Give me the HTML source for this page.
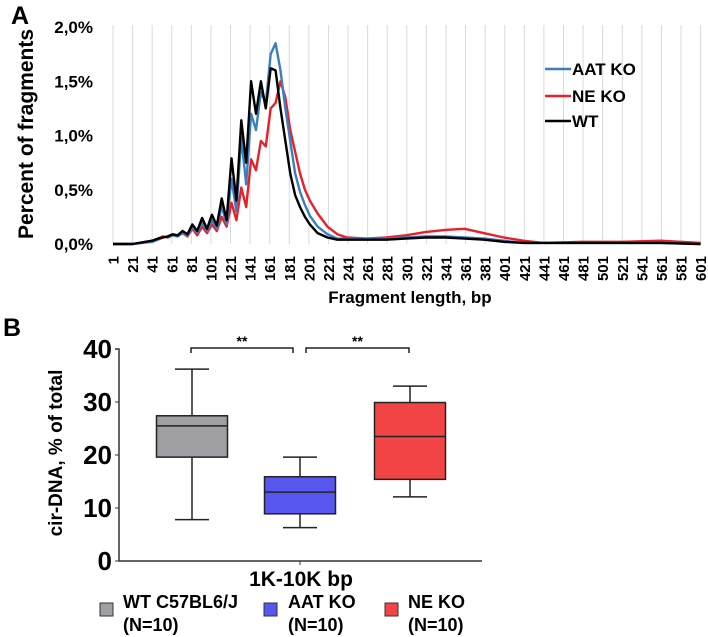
<!DOCTYPE html>
<html><head><meta charset="utf-8"><style>
body{margin:0;background:#fff}
svg{display:block;font-family:"Liberation Sans",Arial,sans-serif;font-weight:bold}
</style></head><body>
<svg id="s" width="708" height="637" viewBox="0 0 708 637">
<text x="11" y="24" font-size="25">A</text>
<text x="3" y="336" font-size="25">B</text>
<g id="topchart"></g>
<g id="botchart"></g>
</svg>
<script>
const lengths=[1,21,41,47,52,57,62,67,72,77,82,87,92,97,102,107,112,117,122,127,132,137,142,147,152,157,162,167,172,177,182,187,192,197,202,210,220,230,240,260,280,300,320,340,360,380,400,420,440,480,520,560,601];
const wtVals=[0,0,0.03,0.05,0.06,0.07,0.09,0.08,0.12,0.09,0.18,0.12,0.24,0.14,0.27,0.17,0.42,0.22,0.79,0.40,1.14,0.75,1.50,1.20,1.50,1.25,1.62,1.60,1.25,0.95,0.65,0.45,0.34,0.25,0.18,0.10,0.06,0.04,0.04,0.04,0.04,0.05,0.06,0.06,0.05,0.04,0.02,0.01,0.01,0.01,0.01,0.01,0];
const aatVals=[0,0,0.02,0.04,0.06,0.07,0.08,0.07,0.10,0.08,0.15,0.10,0.20,0.12,0.22,0.14,0.35,0.18,0.60,0.30,0.98,0.55,1.20,1.05,1.40,1.30,1.75,1.85,1.60,1.25,0.95,0.65,0.48,0.36,0.26,0.16,0.09,0.05,0.05,0.05,0.05,0.06,0.07,0.07,0.06,0.05,0.03,0.01,0.01,0.01,0.01,0.01,0];
const neVals=[0,0,0.03,0.05,0.07,0.06,0.08,0.07,0.10,0.07,0.14,0.08,0.16,0.10,0.18,0.12,0.25,0.16,0.38,0.22,0.52,0.34,0.78,0.68,0.95,0.90,1.25,1.30,1.50,1.35,1.05,0.85,0.65,0.50,0.40,0.28,0.16,0.09,0.06,0.05,0.06,0.08,0.11,0.13,0.14,0.10,0.06,0.03,0.01,0.02,0.02,0.03,0.01];
const yTicksTop=[0,0.5,1,1.5,2];
const yTickLabelsTop=["0,0%","0,5%","1,0%","1,5%","2,0%"];
const xTickVals=[];for(let v=1;v<=601;v+=20)xTickVals.push(v);

const groups=["WT C57BL6/J","AAT KO","NE KO"];
const mins=[7.8,6.3,12.1];
const q1s=[19.6,8.9,15.4];
const medians=[25.5,13,23.5];
const q3s=[27.4,15.9,29.9];
const maxs=[36.2,19.6,33];
const yTicksBot=[0,10,20,30,40];

const NS="http://www.w3.org/2000/svg";
function mk(p,tag,at,txt){const e=document.createElementNS(NS,tag);for(const k in at)e.setAttribute(k,at[k]);if(txt!==undefined)e.textContent=txt;p.appendChild(e);return e;}
const topG=document.getElementById('topchart'),botG=document.getElementById('botchart');
const xA=v=>113+(v-1)/600*587.6, yA=v=>244-v*108.5;
xTickVals.forEach(v=>{
 const g=mk(topG,'line',{x1:xA(v),x2:xA(v),y1:25,y2:244,stroke:'#d9d9d9','stroke-width':1});
 
 
 const t=mk(topG,'text',{x:0,y:0,'font-size':15,'text-anchor':'end',transform:`translate(${xA(v)+5.5},256) rotate(-90)`},String(v));
 
 
});
yTicksTop.forEach((v,i)=>{
 const t=mk(topG,'text',{x:93,y:yA(v)+6,'font-size':17,'text-anchor':'end'},yTickLabelsTop[i]);
 
 
});
let tt=mk(topG,'text',{x:0,y:0,'font-size':21,'text-anchor':'middle',transform:'translate(33,134) rotate(-90)'},'Percent of fragments');


tt=mk(topG,'text',{x:410,y:303,'font-size':17,'text-anchor':'middle'},'Fragment length, bp');


[[neVals,'#e8202a','ne-ko-line'],[aatVals,'#3a7fbf','aat-ko-line'],[wtVals,'#000','wt-line']].forEach(([vals,c,n])=>{
 const p=mk(topG,'polyline',{points:lengths.map((l,i)=>xA(l)+','+yA(vals[i])).join(' '),fill:'none',stroke:c,'stroke-width':2.4,'stroke-linejoin':'round'});
 
 
});
[['AAT KO','#3a7fbf',69],['NE KO','#e8202a',96],['WT','#000',121]].forEach(([l,c,y])=>{
 const g=mk(topG,'g',{});
 
 
 mk(g,'line',{x1:545,x2:571,y1:y,y2:y,stroke:c,'stroke-width':2.4});
 mk(g,'text',{x:572,y:y+6,'font-size':17},l);
});

const yB=v=>561-v*5.3;
const centers=[192,300,410];
const fills=['#a0a0a4','#5757ef','#f24444'];
const ax=mk(botG,'path',{d:'M115 349H119V561H482',fill:'none',stroke:'#333','stroke-width':1.5});


yTicksBot.forEach(v=>{
 mk(botG,'line',{x1:115,x2:119,y1:yB(v),y2:yB(v),stroke:'#333'});
 const t=mk(botG,'text',{x:112,y:yB(v)+9,'font-size':26,'text-anchor':'end'},String(v));
 
 
});
mk(botG,'line',{x1:300,x2:300,y1:561,y2:565,stroke:'#333'});
tt=mk(botG,'text',{x:0,y:0,'font-size':19,'text-anchor':'middle',transform:'translate(62,453) rotate(-90)'},'cir-DNA, % of total');


tt=mk(botG,'text',{x:301,y:586,'font-size':21,'text-anchor':'middle'},'1K-10K bp');


groups.forEach((g,i)=>{
 const c=centers[i];
 const gr=mk(botG,'g',{stroke:'#222','stroke-width':1.5});
 
 
 mk(gr,'line',{x1:c,x2:c,y1:yB(maxs[i]),y2:yB(q3s[i])});
 mk(gr,'line',{x1:c,x2:c,y1:yB(q1s[i]),y2:yB(mins[i])});
 mk(gr,'line',{x1:c-17,x2:c+17,y1:yB(maxs[i]),y2:yB(maxs[i])});
 mk(gr,'line',{x1:c-17,x2:c+17,y1:yB(mins[i]),y2:yB(mins[i])});
 mk(gr,'rect',{x:c-35.5,y:yB(q3s[i]),width:71,height:yB(q1s[i])-yB(q3s[i]),fill:fills[i]});
 mk(gr,'line',{x1:c-35.5,x2:c+35.5,y1:yB(medians[i]),y2:yB(medians[i])});
});
[[191,293],[306,409]].forEach(([x1,x2])=>{
 const p=mk(botG,'path',{d:`M${x1} 353V348H${x2}V353`,fill:'none',stroke:'#222','stroke-width':1.5});
 
 
 const s=mk(botG,'text',{x:(x1+x2)/2,y:346,'font-size':14,'text-anchor':'middle'},'**');
 
 
});
[[100,123,'WT C57BL6/J'],[264,288,'AAT KO'],[385,408,'NE KO']].forEach(([sx,tx,l],i)=>{
 const g=mk(botG,'g',{});
 
 
 mk(g,'rect',{x:sx,y:603,width:13,height:13,fill:fills[i],stroke:'#333','stroke-width':1});
 mk(g,'text',{x:tx,y:608,'font-size':18},l);
 mk(g,'text',{x:tx,y:631,'font-size':18},'(N=10)');
});
</script>
</body></html>
